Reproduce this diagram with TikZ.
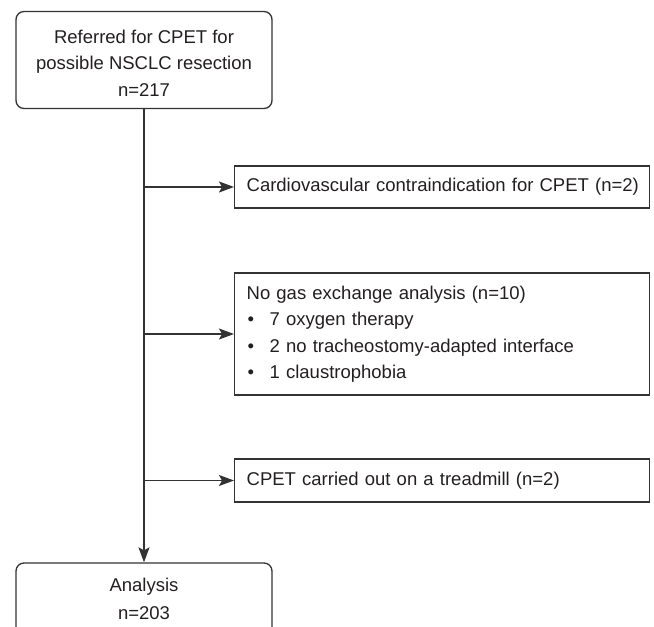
\documentclass[tikz,border=0pt]{standalone}
\usepackage{fontspec}
\setmainfont{Liberation Sans}
\usepackage{tikz}
\usetikzlibrary{calc, positioning, arrows.meta}
\definecolor{linegray}{HTML}{333333}
\definecolor{textgray}{HTML}{231F20}
\tikzstyle{rbox}=[draw=linegray, line width=1.3pt, rounded corners=8pt, align=center, minimum width=256pt, inner sep=0pt, text=textgray]
\tikzstyle{sbox}=[draw=linegray, line width=1.3pt, anchor=west, align=left, text width=391pt, inner xsep=12pt, inner ysep=0pt, text=textgray]
\tikzset{>={Stealth[length=15pt, width=11pt, inset=3pt]}}
\newcommand{\bul}{\makebox[23pt][l]{\hspace{1pt}\textbullet}}

\begin{document}
\begin{tikzpicture}[x=1pt, y=-1pt, font=\fontsize{18.5}{26.5}\selectfont]
\useasboundingbox (0,0) rectangle (654,627);
\clip (0,0) rectangle (654,627);
\node[rbox, minimum height=97pt] (Ref) at (144,60) {\rule{0pt}{19pt}Referred for CPET for\\possible NSCLC resection\\n=217};
\node[rbox, minimum height=72pt] (Ana) at (144,599) {Analysis\\[1.5pt]n=203};
\node[sbox, minimum height=42pt] (Card) at (234,187) {\mbox{Cardiovascular contraindication for CPET (n=2)}};
\node[sbox, minimum height=122pt] (Gas) at (234,334) {No gas exchange analysis (n=10)\\
\bul 7 oxygen therapy\\
\bul 2 no tracheostomy-adapted interface\\
\bul 1 claustrophobia};
\node[sbox, minimum height=43pt] (Tread) at (234,480.5) {CPET carried out on a treadmill (n=2)};
\coordinate (J1) at (Ref.south |- Card.west);
\coordinate (J2) at (Ref.south |- Gas.west);
\coordinate (J3) at (Ref.south |- Tread.west);
%\draw[->] (Ref) -- (Ana);
\draw[->, linegray, line width=1.3pt] (Ref.south) -- (Ana.north);
\draw[->, linegray, line width=1.3pt] (J1) -- (Card.west);
\draw[->, linegray, line width=1.3pt] (J2) -- (Gas.west);
\draw[->, linegray, line width=1.3pt] (J3) -- (Tread.west);
\end{tikzpicture}
\end{document}
